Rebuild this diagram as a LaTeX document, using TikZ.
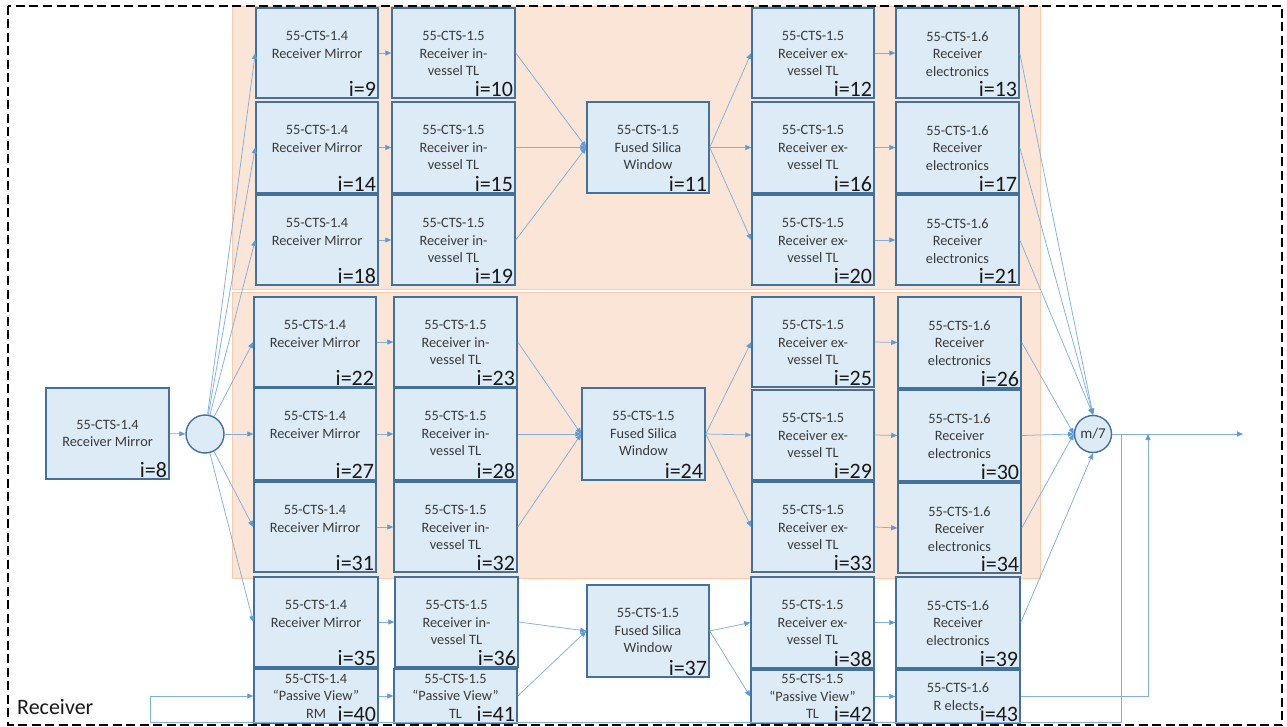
\documentclass[tikz,border=0pt]{standalone}
\usepackage{fontspec}
\setmainfont{Carlito}
\usetikzlibrary{arrows.meta,fit}

\definecolor{boxfill}{HTML}{DDEBF7}
\definecolor{boxline}{HTML}{41719C}
\definecolor{wire}{HTML}{5B9BD5}
\definecolor{wirelight}{HTML}{7FB0DF}
\definecolor{zonefill}{HTML}{FBE5D6}
\definecolor{zoneline}{HTML}{F8CBAD}
\definecolor{txt}{HTML}{3A3A3A}

\tikzset{
  blk/.style={rectangle, draw=boxline, fill=boxfill, line width=1.5pt, inner sep=0pt},
  btext/.style={inner sep=0pt, align=center, text=txt, font=\fontsize{14.3pt}{17.5pt}\selectfont},
  inum/.style={inner sep=0pt, text=black!90, font=\fontsize{22pt}{24pt}\selectfont},
  junc/.style={circle, draw=boxline, fill=boxfill, line width=1.4pt, inner sep=0pt},
  wireln/.style={draw=wirelight, line width=0.75pt},
  arr/.style={wireln, -{Triangle[length=6pt,width=5pt,color=wire]}},
  zone/.style={fill=zonefill, draw=zoneline, line width=0.8pt},
}

% block with its text hung from the top edge
\newcommand\blockT[7]{%
  \node[blk, fit={(#2,#3) (#4,#5)}] (#1) {};
  \node[btext, anchor=north] (#1t) at ([yshift=-24pt]#1.north) {#6};
  \node[inum, anchor=base east] (#1n) at ([xshift=-2.5pt,yshift=2.5pt]#1.south east) {i=#7};
}
% block with its text centred vertically
\newcommand\blockC[7]{%
  \node[blk, fit={(#2,#3) (#4,#5)}] (#1) {};
  \node[btext] (#1t) at (#1.center) {#6};
  \node[inum, anchor=base east] (#1n) at ([xshift=-2.5pt,yshift=2pt]#1.south east) {i=#7};
}

\newcommand\RM{55-CTS-1.4\\Receiver Mirror}
\newcommand\RIV{55-CTS-1.5\\Receiver in-\\vessel TL}
\newcommand\FSW{55-CTS-1.5\\Fused Silica\\Window}
\newcommand\REV{55-CTS-1.5\\Receiver ex-\\vessel TL}
\newcommand\REL{55-CTS-1.6\\Receiver\\electronics}

\begin{document}
\begin{tikzpicture}[x=1pt, y=-1pt]
\path[use as bounding box, fill=white] (0,0) rectangle (1287,727);

% shaded zones of the redundant channels
\path[zone] (232,6) rectangle (1040,289);
\path[zone] (232,292) rectangle (1040,578);

% receiver boundary
\draw[black, line width=1.3pt, dash pattern=on 9pt off 4.5pt] (8,6) rectangle (1282,725);
\node[inum, anchor=base west] (rxlabel) at (17,714) {Receiver};

% input mirror and splitter
\blockC{b8}{46}{388}{169}{479}{\RM}{8}
\node[junc, minimum size=38pt] (c0) at (205,434) {};

% upper channel group
\blockT{b9}{256}{8}{378}{98}{\RM}{9}
\blockT{b14}{256}{102}{378}{193}{\RM}{14}
\blockT{b18}{256}{195}{378}{285}{\RM}{18}
\blockT{b10}{392}{8}{515}{98}{\RIV}{10}
\blockT{b15}{392}{102}{515}{193}{\RIV}{15}
\blockT{b19}{392}{195}{515}{285}{\RIV}{19}
\blockT{f11}{587}{102}{709}{193}{\FSW}{11}
\blockT{b12}{752}{8}{874}{98}{\REV}{12}
\blockT{b16}{752}{102}{874}{193}{\REV}{16}
\blockT{b20}{752}{195}{874}{285}{\REV}{20}
\blockT{b13}{896}{8}{1019}{98}{\REL}{13}
\blockT{b17}{896}{102}{1019}{193}{\REL}{17}
\blockT{b21}{896}{195}{1019}{285}{\REL}{21}

% middle channel group
\blockT{b22}{254}{297}{376}{387}{\RM}{22}
\blockT{b27}{254}{388}{376}{480}{\RM}{27}
\blockT{b31}{254}{482}{376}{572}{\RM}{31}
\blockT{b23}{394}{297}{517}{387}{\RIV}{23}
\blockT{b28}{394}{388}{517}{480}{\RIV}{28}
\blockT{b32}{394}{482}{517}{572}{\RIV}{32}
\blockT{f24}{582}{388}{705}{480}{\FSW}{24}
\blockT{b25}{752}{297}{874}{387}{\REV}{25}
\blockT{b29}{752}{390}{874}{480}{\REV}{29}
\blockT{b33}{752}{482}{874}{572}{\REV}{33}
\blockT{b26}{898}{297}{1021}{388}{\REL}{26}
\blockT{b30}{898}{390}{1021}{481}{\REL}{30}
\blockT{b34}{898}{483}{1021}{573}{\REL}{34}

% lower channel and passive view
\blockT{b35}{254}{577}{378}{667}{\RM}{35}
\blockT{b36}{395}{577}{518}{667}{\RIV}{36}
\blockT{f37}{587}{585}{709}{677}{\FSW}{37}
\blockT{b38}{751}{577}{874}{668}{\REV}{38}
\blockT{b39}{896}{577}{1020}{668}{\REL}{39}
\blockC{b40}{254}{669}{378}{723}{55-CTS-1.4\\“Passive View”\\RM}{40}
\blockC{b41}{394}{669}{517}{723}{55-CTS-1.5\\“Passive View”\\TL}{41}
\blockC{b42}{751}{670}{874}{723}{55-CTS-1.5\\“Passive View”\\TL}{42}
\blockC{b43}{896}{670}{1020}{723}{55-CTS-1.6\\R elects.}{43}

% combiner
\node[junc, minimum size=37pt, text=txt, font=\fontsize{15pt}{17pt}\selectfont] (m7) at (1093,434) {m/7};

\coordinate (out) at (1243,434);
\coordinate (tap) at (1121,434);
\coordinate (fbR) at (1121,722);
\coordinate (fbL) at (150,722);
\coordinate (join) at (1148,434);

% splitter connections
\draw[arr] (b8) -- (c0);
\foreach \t in {b9,b14,b18,b22,b27,b31,b35}
  \draw[arr] (c0) -- (\t.west);

% mirror to in-vessel line
\foreach \a/\b in {b9/b10,b14/b15,b18/b19,b22/b23,b27/b28,b31/b32,b35/b36,b40/b41}
  \draw[arr] (\a.east) -- (\b.west);

% into the windows
\foreach \a in {b10,b15,b19} \draw[arr] (\a.east) -- (f11.west);
\foreach \a in {b23,b28,b32} \draw[arr] (\a.east) -- (f24.west);
\foreach \a in {b36,b41} \draw[arr] (\a.east) -- (f37.west);

% out of the windows
\foreach \b in {b12,b16,b20} \draw[arr] (f11.east) -- (\b.west);
\foreach \b in {b25,b29,b33} \draw[arr] (f24.east) -- (\b.west);
\foreach \b in {b38,b42} \draw[arr] (f37.east) -- (\b.west);

% ex-vessel line to electronics
\foreach \a/\b in {b12/b13,b16/b17,b20/b21,b25/b26,b29/b30,b33/b34,b38/b39,b42/b43}
  \draw[arr] (\a.east) -- (\b.west);

% electronics to combiner
\foreach \a in {b13,b17,b21} \draw[arr] (\a.east) -- (m7.north);
\foreach \a in {b26,b30,b34} \draw[arr] (\a.east) -- (m7.west);
\draw[arr] (b39.east) -- (m7.south);

% output and feedback paths
\draw[arr] (m7.east) -- (out);
\draw[arr] (tap) -- (fbR) -- (fbL) |- (b40.west);
\draw[arr] (b43.east) -| (join);
\end{tikzpicture}
\end{document}
